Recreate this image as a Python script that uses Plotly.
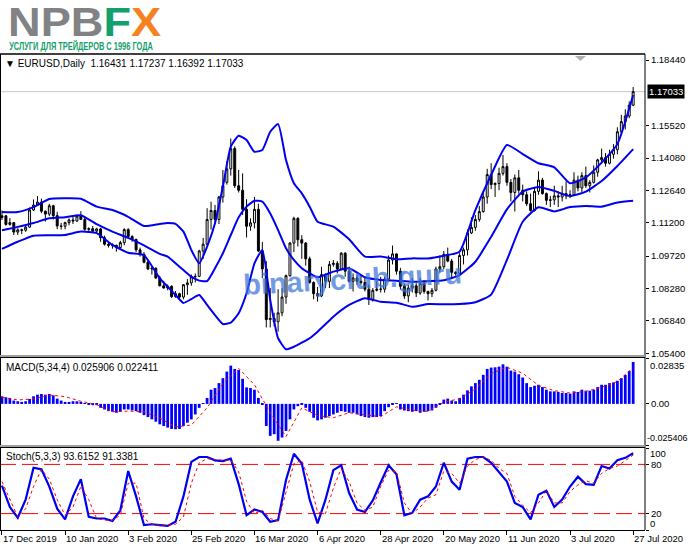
import plotly.graph_objects as go

# EURUSD daily, 17 Dec 2019 .. 27 Jul 2020
bar_open = [
    1.1144, 1.1151, 1.1113, 1.1121, 1.1079, 1.1089, 1.1087, 1.1101, 1.1177, 1.1199,
    1.1212, 1.1172, 1.1159, 1.1196, 1.1152, 1.1106, 1.1105, 1.1121, 1.1133, 1.1128,
    1.1150, 1.1135, 1.1091, 1.1094, 1.1083, 1.1093, 1.1054, 1.1025, 1.1020, 1.1020,
    1.1010, 1.1032, 1.1090, 1.1059, 1.1046, 1.1000, 1.0980, 1.0945, 1.0915, 1.0918,
    1.0875, 1.0840, 1.0830, 1.0838, 1.0792, 1.0805, 1.0790, 1.0845, 1.0853, 1.0880,
    1.0882, 1.0995, 1.1025, 1.1135, 1.1175, 1.1135, 1.1235, 1.1300, 1.1360, 1.1450,
    1.1285, 1.1265, 1.1180, 1.1105, 1.1120, 1.1180, 1.0995, 1.0915, 1.0690, 1.0695,
    1.0680, 1.0720, 1.0790, 1.0885, 1.1030, 1.1140, 1.1045, 1.1030, 1.0960, 1.0855,
    1.0805, 1.0795, 1.0890, 1.0860, 1.0935, 1.0940, 1.0915, 1.0985, 1.0905, 1.0860,
    1.0875, 1.0860, 1.0855, 1.0825, 1.0780, 1.0820, 1.0825, 1.0825, 1.0870, 1.0955,
    1.0982, 1.0905, 1.0838, 1.0795, 1.0830, 1.0840, 1.0808, 1.0850, 1.0815, 1.0805,
    1.0820, 1.0915, 1.0925, 1.0980, 1.0950, 1.0900, 1.0895, 1.0975, 1.1000, 1.1075,
    1.1100, 1.1135, 1.1170, 1.1235, 1.1335, 1.1290, 1.1295, 1.1340, 1.1370, 1.1300,
    1.1255, 1.1320, 1.1265, 1.1245, 1.1205, 1.1175, 1.1260, 1.1310, 1.1250, 1.1220,
    1.1222, 1.1240, 1.1235, 1.1250, 1.1240, 1.1245, 1.1310, 1.1275, 1.1330, 1.1285,
    1.1300, 1.1345, 1.1400, 1.1410, 1.1385, 1.1425, 1.1445, 1.1525, 1.1570, 1.1595,
    1.16431,
]
bar_high = [
    1.1175, 1.1155, 1.1141, 1.1122, 1.1096, 1.1094, 1.1106, 1.1188, 1.1224, 1.1239,
    1.1228, 1.1174, 1.1205, 1.1200, 1.1169, 1.1120, 1.1125, 1.1140, 1.1146, 1.1157,
    1.1172, 1.1142, 1.1100, 1.1106, 1.1098, 1.1098, 1.1063, 1.1034, 1.1029, 1.1023,
    1.1040, 1.1096, 1.1096, 1.1065, 1.1050, 1.1010, 1.0990, 1.0955, 1.0925, 1.0922,
    1.0885, 1.0862, 1.0846, 1.0842, 1.0817, 1.0809, 1.0848, 1.0870, 1.0890, 1.0895,
    1.1000, 1.1053, 1.1185, 1.1214, 1.1200, 1.1240, 1.1355, 1.1395, 1.1495, 1.1460,
    1.1355, 1.1340, 1.1225, 1.1140, 1.1235, 1.1205, 1.1035, 1.0950, 1.0830, 1.0720,
    1.0825, 1.0830, 1.0890, 1.1035, 1.1147, 1.1145, 1.1065, 1.1035, 1.0970, 1.0860,
    1.0835, 1.0925, 1.0895, 1.0950, 1.0955, 1.0950, 1.0990, 1.0990, 1.0925, 1.0895,
    1.0890, 1.0885, 1.0875, 1.0845, 1.0830, 1.0860, 1.0880, 1.0880, 1.0975, 1.1019,
    1.0983, 1.0920, 1.0850, 1.0845, 1.0875, 1.0852, 1.0875, 1.0865, 1.0818, 1.0830,
    1.0925, 1.0975, 1.0995, 1.1010, 1.0960, 1.0905, 1.0985, 1.1010, 1.1090, 1.1145,
    1.1155, 1.1195, 1.1257, 1.1360, 1.1385, 1.1300, 1.1365, 1.1422, 1.1385, 1.1315,
    1.1335, 1.1355, 1.1290, 1.1260, 1.1250, 1.1275, 1.1349, 1.1320, 1.1255, 1.1240,
    1.1285, 1.1260, 1.1285, 1.1305, 1.1265, 1.1345, 1.1330, 1.1345, 1.1370, 1.1310,
    1.1375, 1.1405, 1.1450, 1.1430, 1.1445, 1.1470, 1.1545, 1.1600, 1.1625, 1.1660,
    1.17237,
]
bar_low = [
    1.1133, 1.1107, 1.1107, 1.1066, 1.1066, 1.1070, 1.1080, 1.1098, 1.1173, 1.1195,
    1.1163, 1.1126, 1.1150, 1.1135, 1.1092, 1.1090, 1.1091, 1.1109, 1.1115, 1.1124,
    1.1134, 1.1085, 1.1083, 1.1076, 1.1072, 1.1036, 1.1019, 1.1010, 1.1005, 1.0992,
    1.1000, 1.1020, 1.1050, 1.1036, 1.0990, 1.0970, 1.0940, 1.0910, 1.0890, 1.0870,
    1.0838, 1.0828, 1.0820, 1.0786, 1.0787, 1.0778, 1.0780, 1.0800, 1.0840, 1.0855,
    1.0880, 1.0960, 1.1020, 1.1090, 1.1115, 1.1115, 1.1210, 1.1290, 1.1330, 1.1275,
    1.1255, 1.1155, 1.1055, 1.1085, 1.1095, 1.0990, 1.0875, 1.0655, 1.0655, 1.0660,
    1.0636, 1.0705, 1.0760, 1.0880, 1.0990, 1.1015, 1.0960, 1.0930, 1.0850, 1.0780,
    1.0770, 1.0790, 1.0830, 1.0830, 1.0925, 1.0895, 1.0910, 1.0880, 1.0855, 1.0815,
    1.0845, 1.0845, 1.0815, 1.0755, 1.0770, 1.0815, 1.0810, 1.0810, 1.0860, 1.0935,
    1.0890, 1.0823, 1.0782, 1.0767, 1.0810, 1.0790, 1.0800, 1.0805, 1.0775, 1.0790,
    1.0815, 1.0900, 1.0915, 1.0945, 1.0870, 1.0885, 1.0890, 1.0935, 1.0975, 1.1070,
    1.1085, 1.1125, 1.1165, 1.1205, 1.1270, 1.1235, 1.1265, 1.1330, 1.1285, 1.1215,
    1.1170, 1.1250, 1.1215, 1.1195, 1.1170, 1.1170, 1.1245, 1.1245, 1.1200, 1.1190,
    1.1200, 1.1190, 1.1215, 1.1225, 1.1230, 1.1240, 1.1260, 1.1255, 1.1275, 1.1255,
    1.1295, 1.1325, 1.1390, 1.1370, 1.1380, 1.1405, 1.1425, 1.1520, 1.1535, 1.1585,
    1.16392,
]
bar_close = [
    1.1151, 1.1113, 1.1121, 1.1079, 1.1089, 1.1087, 1.1101, 1.1177, 1.1199, 1.1212,
    1.1172, 1.1159, 1.1196, 1.1152, 1.1106, 1.1105, 1.1121, 1.1133, 1.1128, 1.1150,
    1.1135, 1.1091, 1.1094, 1.1083, 1.1093, 1.1054, 1.1025, 1.1020, 1.1020, 1.1010,
    1.1032, 1.1090, 1.1059, 1.1046, 1.1000, 1.0980, 1.0945, 1.0915, 1.0918, 1.0875,
    1.0840, 1.0830, 1.0838, 1.0792, 1.0805, 1.0790, 1.0845, 1.0853, 1.0880, 1.0882,
    1.0995, 1.1025, 1.1135, 1.1175, 1.1135, 1.1235, 1.1285, 1.1360, 1.1450, 1.1285,
    1.1265, 1.1180, 1.1105, 1.1120, 1.1180, 1.0995, 1.0915, 1.0690, 1.0695, 1.0680,
    1.0720, 1.0790, 1.0885, 1.1030, 1.1140, 1.1045, 1.1030, 1.0960, 1.0855, 1.0805,
    1.0795, 1.0890, 1.0860, 1.0935, 1.0940, 1.0915, 1.0985, 1.0905, 1.0860, 1.0875,
    1.0860, 1.0855, 1.0825, 1.0780, 1.0820, 1.0825, 1.0825, 1.0870, 1.0955, 1.0982,
    1.0905, 1.0838, 1.0795, 1.0830, 1.0840, 1.0808, 1.0850, 1.0815, 1.0805, 1.0820,
    1.0915, 1.0925, 1.0980, 1.0950, 1.0900, 1.0895, 1.0975, 1.1000, 1.1075, 1.1100,
    1.1135, 1.1170, 1.1235, 1.1335, 1.1290, 1.1295, 1.1340, 1.1370, 1.1300, 1.1255,
    1.1320, 1.1265, 1.1245, 1.1205, 1.1175, 1.1260, 1.1310, 1.1250, 1.1220, 1.1222,
    1.1240, 1.1235, 1.1250, 1.1240, 1.1245, 1.1310, 1.1275, 1.1330, 1.1285, 1.1300,
    1.1345, 1.1400, 1.1410, 1.1385, 1.1425, 1.1445, 1.1525, 1.1570, 1.1595, 1.1643,
    1.17033,
]

# Bollinger bands, sampled at these bar numbers
band_idx = [0, 4, 8, 12, 16, 20, 24, 28, 32, 36, 40,
            42, 44, 46, 48, 50, 52, 54, 56, 58, 60, 62, 64, 66, 68, 70, 72, 74, 76, 78, 80,
            84, 88, 92, 96, 100, 104, 108, 112, 116, 120, 124, 128, 132, 136, 140, 144,
            148, 152, 156, 160]
bb_upper = [1.1168, 1.1168, 1.1190, 1.1226, 1.1229, 1.1227, 1.1192, 1.1177, 1.1147, 1.1106, 1.1115,
            1.1119, 1.1115, 1.1081, 1.0999, 1.0940, 1.1014, 1.1118, 1.1281, 1.1459, 1.1507,
            1.1488, 1.1436, 1.1444, 1.1525, 1.1559, 1.1399, 1.1296, 1.1251, 1.1192, 1.1125,
            1.1103, 1.1047, 1.0970, 1.0970, 1.0958, 1.0962, 1.0962, 1.0974, 1.0992, 1.1177,
            1.1333, 1.1466, 1.1426, 1.1385, 1.1367, 1.1296, 1.1322, 1.1388, 1.1470, 1.1688]
bb_middle = [1.1087, 1.1102, 1.1119, 1.1140, 1.1145, 1.1154, 1.1114, 1.1081, 1.1053, 1.1020, 1.0982,
             1.0970, 1.0940, 1.0910, 1.0881, 1.0863, 1.0861, 1.0918, 1.0985, 1.1066, 1.1145,
             1.1192, 1.1218, 1.1214, 1.1162, 1.1088, 1.1007, 1.0955, 1.0918, 1.0896, 1.0878,
             1.0903, 1.0918, 1.0878, 1.0866, 1.0863, 1.0858, 1.0861, 1.0865, 1.0888, 1.0947,
             1.1058, 1.1180, 1.1259, 1.1279, 1.1262, 1.1239, 1.1259, 1.1306, 1.1373, 1.1448]
bb_lower = [1.1004, 1.1036, 1.1063, 1.1065, 1.1066, 1.1081, 1.1074, 1.1022, 1.0987, 1.0976, 1.0873,
            1.0836, 1.0799, 1.0764, 1.0781, 1.0799, 1.0755, 1.0710, 1.0670, 1.0676, 1.0718,
            1.0807, 1.0940, 1.0999, 1.0777, 1.0607, 1.0558, 1.0569, 1.0587, 1.0607, 1.0636,
            1.0703, 1.0755, 1.0785, 1.0769, 1.0765, 1.0747, 1.0759, 1.0758, 1.0759, 1.0767,
            1.0801, 1.0955, 1.1125, 1.1189, 1.1171, 1.1190, 1.1195, 1.1192, 1.1210, 1.1218]

# MACD(5,34,4): histogram per bar, signal sampled every 4 bars
macd_main = [
    0.00469, 0.00407, 0.00367, 0.00204, 0.00163, 0.00122, 0.00163, 0.00306, 0.00469, 0.00570,
    0.00611, 0.00570, 0.00611, 0.00530, 0.00326, 0.00204, 0.00122, 0.00122, 0.00163, 0.00163,
    0.00122, 0.00041, -0.00041, -0.00081, -0.00081, -0.00244, -0.00346, -0.00448, -0.00489, -0.00550,
    -0.00489, -0.00346, -0.00346, -0.00407, -0.00448, -0.00550, -0.00693, -0.00815, -0.00957, -0.01100,
    -0.01263, -0.01365, -0.01467, -0.01548, -0.01568, -0.01548, -0.01365, -0.01161, -0.00957, -0.00652,
    -0.00244, 0.00010, 0.00367, 0.00876, 0.00978, 0.01283, 0.01589, 0.01996, 0.02363, 0.02159,
    0.02098, 0.01548, 0.01019, 0.00978, 0.00876, 0.00367, -0.00041, -0.01365, -0.01976, -0.01874,
    -0.02281, -0.02078, -0.01670, -0.00957, -0.00346, -0.00143, -0.00041, -0.00244, -0.00489, -0.00856,
    -0.01019, -0.00957, -0.00856, -0.00754, -0.00652, -0.00550, -0.00448, -0.00489, -0.00550, -0.00550,
    -0.00652, -0.00754, -0.00815, -0.00856, -0.00815, -0.00815, -0.00754, -0.00448, -0.00204, -0.00041,
    0.00020, -0.00346, -0.00407, -0.00448, -0.00489, -0.00448, -0.00550, -0.00489, -0.00448, -0.00407,
    -0.00244, -0.00041, 0.00265, 0.00326, 0.00204, 0.00163, 0.00367, 0.00570, 0.00835, 0.01080,
    0.01283, 0.01487, 0.01793, 0.02159, 0.02241, 0.02261, 0.02302, 0.02444, 0.02302, 0.02057,
    0.01996, 0.01833, 0.01630, 0.01283, 0.01039, 0.01120, 0.01181, 0.01039, 0.00876, 0.00774,
    0.00774, 0.00733, 0.00672, 0.00672, 0.00631, 0.00774, 0.00733, 0.00876, 0.00815, 0.00815,
    0.00876, 0.01039, 0.01181, 0.01181, 0.01283, 0.01324, 0.01426, 0.01589, 0.01793, 0.02037,
    0.025906,
]
macd_idx = list(range(0, 161, 4))
macd_signal = [0.00407, 0.00244, 0.00306, 0.00550, 0.00448, 0.00163, -0.00041, -0.00489, -0.00448,
               -0.00489, -0.00876, -0.01426, -0.01304, -0.00244, 0.01263, 0.02200, 0.01181, -0.00550,
               -0.02017, -0.00244, -0.00713, -0.00856, -0.00550, -0.00693, -0.00794, -0.00183,
               -0.00387, -0.00469, 0.00122, 0.00306, 0.00917, 0.01874, 0.02261, 0.01894, 0.01141,
               0.00815, 0.00672, 0.00774, 0.01019, 0.01385, 0.022411]

# Stochastic(5,3,3), sampled every 2 bars
stoch_idx = list(range(0, 161, 2))
stoch_main = [54, 28, 15, 37, 76, 74, 53, 26, 13, 41,
              62, 16, 14, 14, 11, 24, 72, 41, 6, 7,
              6, 5, 10, 41, 83, 89, 89, 85, 84, 87,
              56, 18, 25, 22, 10, 12, 61, 93, 81, 37,
              8, 37, 73, 79, 45, 25, 22, 36, 58, 79,
              68, 18, 21, 37, 41, 53, 82, 59, 49, 87,
              89, 89, 82, 71, 59, 33, 28, 13, 43, 48,
              28, 37, 53, 65, 56, 55, 78, 75, 85, 88,
              93.6152]
stoch_signal = [59, 37, 16, 26, 53, 74, 62, 37, 18, 28,
                53, 37, 14, 12, 12, 18, 57, 57, 14, 7,
                6, 6, 7, 16, 57, 82, 87, 86, 85, 85,
                71, 35, 20, 24, 14, 11, 45, 81, 85, 59,
                22, 20, 51, 75, 59, 33, 24, 28, 53, 73,
                71, 33, 20, 28, 39, 43, 72, 69, 57, 78,
                86, 89, 85, 75, 69, 41, 30, 21, 33, 48,
                33, 33, 47, 55, 60, 57, 69, 75, 78, 85,
                91.3381]

date_idx = [0, 16, 32, 48, 64, 80, 96, 112, 128, 144, 160]
date_labels = ["17 Dec 2019", "10 Jan 2020", "3 Feb 2020", "25 Feb 2020", "16 Mar 2020",
               "6 Apr 2020", "28 Apr 2020", "20 May 2020", "11 Jun 2020", "3 Jul 2020",
               "27 Jul 2020"]
price_ticks = [1.18440, 1.15520, 1.14080, 1.12640, 1.11200, 1.09720, 1.08280, 1.06840, 1.05400]
price_labels = ["%.5f" % p for p in price_ticks]
last_price = 1.17033

# page geometry (pixels)
W, H = 691, 549
TOP, BOTTOM, RIGHT = 56, 530, 645


def py(y):
    # pixel row -> paper y
    return (BOTTOM - y) / (BOTTOM - TOP)


def px(x):
    return x / RIGHT


FONT = "Liberation Sans, Arial, sans-serif"
BLUE = "#0000f0"
bar_idx = list(range(len(bar_close)))

fig = go.Figure()
fig.add_trace(go.Candlestick(
    x=bar_idx, open=bar_open, high=bar_high, low=bar_low, close=bar_close,
    increasing=dict(fillcolor="white", line=dict(color="black", width=1)),
    decreasing=dict(fillcolor="black", line=dict(color="black", width=1)),
    whiskerwidth=0, hoverinfo="skip", xaxis="x", yaxis="y"))
for band in (bb_upper, bb_middle, bb_lower):
    fig.add_trace(go.Scatter(x=band_idx, y=band, mode="lines", yaxis="y",
                             line=dict(color=BLUE, width=2, shape="spline", smoothing=0.5)))

fig.add_trace(go.Bar(x=bar_idx, y=macd_main, width=0.7, yaxis="y2",
                     marker=dict(color="#0000ff", line=dict(width=0))))
fig.add_trace(go.Scatter(x=macd_idx, y=macd_signal, mode="lines", yaxis="y2",
                         line=dict(color="#ff0000", width=1, dash="dot")))

fig.add_trace(go.Scatter(x=stoch_idx, y=stoch_main, mode="lines", yaxis="y3",
                         line=dict(color=BLUE, width=2.2)))
fig.add_trace(go.Scatter(x=stoch_idx, y=stoch_signal, mode="lines", yaxis="y3",
                         line=dict(color="#ff0000", width=1, dash="dot")))

SMALL = 9.5
tickfont = dict(family=FONT, size=SMALL, color="black")
yax = dict(side="right", anchor="x", showgrid=False, zeroline=False, showline=False,
           ticks="outside", ticklen=3, tickcolor="black", tickfont=tickfont, fixedrange=True)

fig.update_layout(
    width=W, height=H,
    margin=dict(l=0, r=W - RIGHT, t=TOP, b=H - BOTTOM),
    paper_bgcolor="white", plot_bgcolor="white",
    showlegend=False, hovermode=False,
    xaxis=dict(range=[-0.5, 163.0], anchor="y3", showgrid=False, zeroline=False,
               showline=True, linecolor="black", linewidth=1,
               tickvals=date_idx, ticks="outside", ticklen=4, tickcolor="black",
               showticklabels=False, rangeslider=dict(visible=False)),
    yaxis=dict(domain=[py(356), 1], range=[1.05280, 1.18618],
               tickvals=price_ticks, ticktext=price_labels, **yax),
    yaxis2=dict(domain=[py(445), py(358)], range=[-0.025406, 0.02835],
                tickvals=[0.02835, 0, -0.025406], ticktext=["", "0.00", ""], **yax),
    yaxis3=dict(domain=[0, py(448)], range=[0, 100],
                tickvals=[100, 80, 20, 0], ticktext=["", "80", "20", ""], **yax),
)

shapes = [
    # last price line
    dict(type="line", xref="paper", yref="y", x0=0, x1=1, y0=last_price, y1=last_price,
         line=dict(color="#c8c8c8", width=1), layer="below"),
    # stochastic levels
    dict(type="line", xref="paper", yref="y3", x0=0, x1=1, y0=80, y1=80,
         line=dict(color="#ff0000", width=1, dash="16px,6px"), layer="below"),
    dict(type="line", xref="paper", yref="y3", x0=0, x1=1, y0=20, y1=20,
         line=dict(color="#ff0000", width=1, dash="16px,6px"), layer="below"),
    # frame
    dict(type="line", xref="paper", yref="paper", x0=0, x1=1, y0=py(54), y1=py(54),
         line=dict(color="black", width=1.5)),
    dict(type="line", xref="paper", yref="paper", x0=0, x1=0, y0=0, y1=py(54),
         line=dict(color="black", width=2)),
    dict(type="line", xref="paper", yref="paper", x0=1, x1=1, y0=0, y1=py(54),
         line=dict(color="black", width=1)),
    # panel separators
    dict(type="rect", xref="paper", yref="paper", x0=0, x1=1, y0=py(358), y1=py(355),
         fillcolor="#a0a0a0", line=dict(width=0)),
    dict(type="line", xref="paper", yref="paper", x0=0, x1=1, y0=py(357.5), y1=py(357.5),
         line=dict(color="black", width=1)),
    dict(type="rect", xref="paper", yref="paper", x0=0, x1=1, y0=py(448), y1=py(445),
         fillcolor="#a0a0a0", line=dict(width=0)),
    dict(type="line", xref="paper", yref="paper", x0=0, x1=1, y0=py(447.5), y1=py(447.5),
         line=dict(color="black", width=1)),
    # chart shift marker
    dict(type="path", xref="paper", yref="paper",
         path="M %f,%f L %f,%f L %f,%f Z" % (px(575), py(56), px(586), py(56), px(580.5), py(61)),
         fillcolor="#b0b0b0", line=dict(width=0)),
]
fig.update_layout(shapes=shapes)

ann = []
small = dict(family=FONT, size=SMALL, color="black")
# logo
ann.append(dict(xref="paper", yref="paper", x=px(6), y=py(22), xanchor="left", yanchor="middle",
                showarrow=False,
                text="<b><span style='color:#808285'>NPB</span><span style='color:#14a06c'>F</span>"
                     "<span style='color:#f5821f'>X</span></b>",
                font=dict(family=FONT, size=40)))
ann.append(dict(xref="paper", yref="paper", x=px(7), y=py(46.5), xanchor="left", yanchor="middle",
                showarrow=False, text="<b>УСЛУГИ ДЛЯ ТРЕЙДЕРОВ С 1996 ГОДА</b>",
                font=dict(family=FONT, size=10.2, color="#14a06c")))
# panel captions
ann.append(dict(xref="paper", yref="paper", x=px(3), y=py(63), xanchor="left", yanchor="middle",
                showarrow=False, font=dict(family=FONT, size=10, color="black"),
                text="▼ EURUSD,Daily  1.16431 1.17237 1.16392 1.17033"))
ann.append(dict(xref="paper", yref="paper", x=px(4), y=py(367.5), xanchor="left", yanchor="middle",
                showarrow=False, font=dict(family=FONT, size=10, color="black"),
                text="MACD(5,34,4) 0.025906 0.022411"))
ann.append(dict(xref="paper", yref="paper", x=px(4), y=py(456.5), xanchor="left", yanchor="middle",
                showarrow=False, font=dict(family=FONT, size=10, color="black"),
                text="Stoch(5,3,3) 93.6152 91.3381"))
# last price box
ann.append(dict(xref="paper", yref="y", x=1, y=last_price, xanchor="left", yanchor="middle",
                xshift=2, showarrow=False, text="1.17033", bgcolor="black", borderpad=1,
                font=dict(family=FONT, size=SMALL, color="white")))
# edge labels of the indicator scales
ann.append(dict(xref="paper", yref="y2", x=1, y=0.02835, xanchor="left", yanchor="top", xshift=3,
                showarrow=False, font=small, text="0.02835"))
ann.append(dict(xref="paper", yref="y2", x=1, y=-0.025406, xanchor="left", yanchor="bottom",
                xshift=0, showarrow=False, font=dict(family=FONT, size=9, color="black"),
                text="-0.025406"))
ann.append(dict(xref="paper", yref="y3", x=1, y=100, xanchor="left", yanchor="top", xshift=3,
                yshift=2, showarrow=False, font=small, text="100"))
ann.append(dict(xref="paper", yref="y3", x=1, y=0, xanchor="left", yanchor="bottom", xshift=3,
                yshift=-1, showarrow=False, font=small, text="0"))
# date labels
for i, lab in zip(date_idx, date_labels):
    ann.append(dict(xref="x", yref="paper", x=i, y=0, xanchor="left", yanchor="top",
                    xshift=-1, yshift=-1, showarrow=False, font=small, text=lab))
# watermark
ann.append(dict(xref="paper", yref="paper", x=px(353), y=py(279), xanchor="center",
                yanchor="middle", showarrow=False, textangle=-3, text="<b>binaryclub.guru</b>",
                font=dict(family=FONT, size=29, color="rgba(60,115,215,0.72)")))
fig.update_layout(annotations=ann)

# page starts at the top-left corner; the logo is a wide face and the slogan a narrow one,
# so stretch those two texts horizontally after plotting
post = """
document.body.style.margin = '0';
var gd = document.getElementById('{plot_id}');
function stretch(prefix, sx) {
  gd.querySelectorAll('text.annotation-text').forEach(function (t) {
    if (t.textContent.indexOf(prefix) === 0) {
      t.style.transformBox = 'fill-box';
      t.style.transformOrigin = 'left center';
      t.style.transform = 'scaleX(' + sx + ')';
    }
  });
}
stretch('NPBFX', 1.13);
stretch('УСЛУГИ', 0.73);
"""
fig.write_html("out.html", config={"displayModeBar": False}, post_script=post)
